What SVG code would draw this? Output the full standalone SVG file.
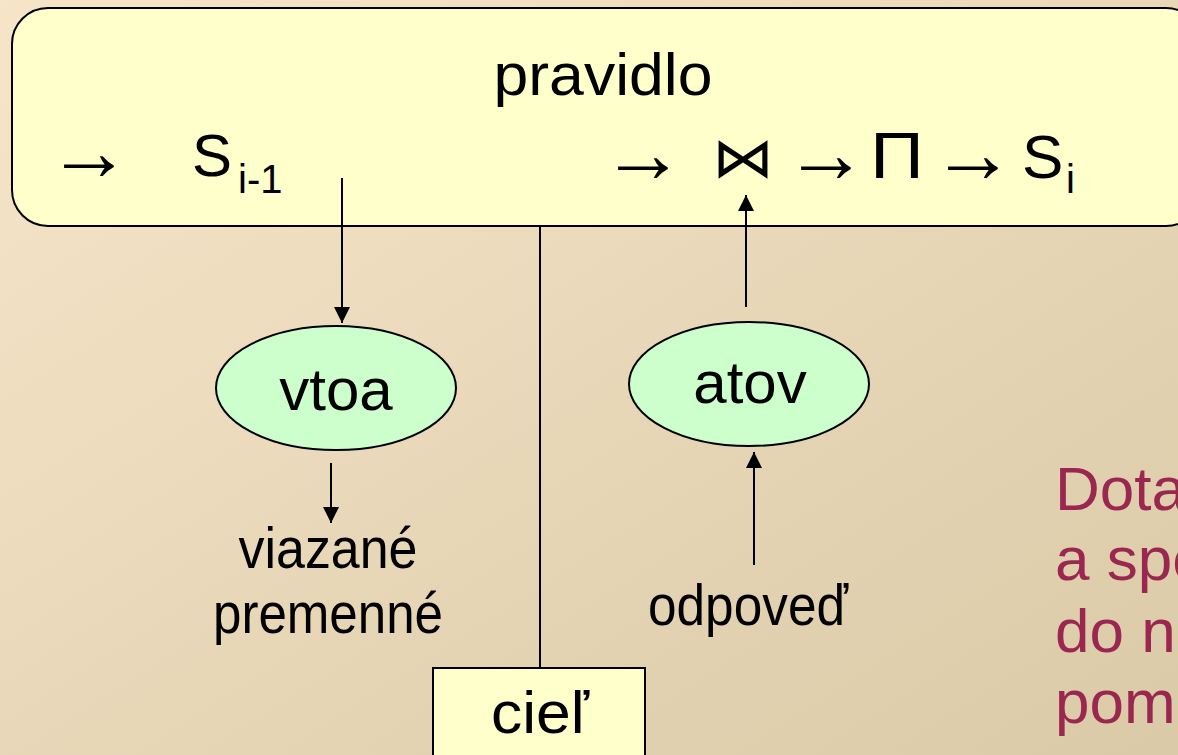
<svg xmlns="http://www.w3.org/2000/svg" width="1178" height="755" viewBox="0 0 1178 755">
  <defs>
    <linearGradient id="bg" x1="0" y1="0" x2="1" y2="1">
      <stop offset="0" stop-color="#f6e5c9"/>
      <stop offset="1" stop-color="#dbcaa7"/>
    </linearGradient>
    <marker id="arrow" markerUnits="userSpaceOnUse" markerWidth="16" markerHeight="16" refX="16" refY="8" orient="auto">
      <path d="M0,0 L16,8 L0,16 z" fill="#000"/>
    </marker>
    <style>
      .t { font-family: "Liberation Sans", Arial, sans-serif; fill: #000; }
      .arr { font-family: "Liberation Sans", Arial, sans-serif; fill: #000; font-size: 84px; }
      .sym { font-family: "DejaVu Sans", "Liberation Sans", sans-serif; fill: #000; }
      .note { font-family: "Liberation Sans", Arial, sans-serif; fill: #9a2750; font-size: 62px; }
      .box { fill: #ffffcc; stroke: #000; stroke-width: 2; }
      .oval { fill: #ccffcc; stroke: #000; stroke-width: 2; }
      .edge { stroke: #000; stroke-width: 2; fill: none; }
    </style>
  </defs>

  <rect width="1178" height="755" fill="url(#bg)"/>

  <!-- rule box -->
  <g id="pravidlo">
    <rect class="box" x="12" y="8" width="1190" height="218" rx="36" ry="36"/>
    <text class="t" x="603" y="95" font-size="60" text-anchor="middle" textLength="219" lengthAdjust="spacingAndGlyphs">pravidlo</text>
    <text class="arr" x="47" y="180">→</text>
    <text class="t" x="192" y="176" font-size="60">S</text>
    <text class="t" x="238" y="193" font-size="40">i-1</text>
    <text class="arr" x="601" y="182">→</text>
    <text class="sym" x="712" y="177" font-size="56" textLength="62" lengthAdjust="spacingAndGlyphs">⋈</text>
    <text class="arr" x="784" y="182">→</text>
    <text class="t" x="870" y="178" font-size="64" textLength="54" lengthAdjust="spacingAndGlyphs">Π</text>
    <text class="arr" x="931" y="182">→</text>
    <text class="t" x="1022" y="178" font-size="62">S</text>
    <text class="t" x="1066" y="193" font-size="40">i</text>
  </g>

  <g id="vtoa">
    <ellipse class="oval" cx="336" cy="388" rx="120" ry="62"/>
    <text class="t" x="336" y="410" font-size="60" text-anchor="middle">vtoa</text>
  </g>

  <g id="atov">
    <ellipse class="oval" cx="749" cy="384" rx="120" ry="62"/>
    <text class="t" x="750" y="403" font-size="60" text-anchor="middle">atov</text>
  </g>

  <g id="viazane">
    <text class="t" x="328" y="568" font-size="58" text-anchor="middle" textLength="179" lengthAdjust="spacingAndGlyphs">viazané</text>
    <text class="t" x="328" y="633" font-size="58" text-anchor="middle" textLength="230" lengthAdjust="spacingAndGlyphs">premenné</text>
  </g>

  <g id="odpoved">
    <text class="t" x="748" y="625" font-size="58" text-anchor="middle" textLength="200" lengthAdjust="spacingAndGlyphs">odpoveď</text>
  </g>

  <g id="ciel">
    <rect class="box" x="433" y="668" width="212" height="100"/>
    <text class="t" x="540" y="733" font-size="60" text-anchor="middle" textLength="98" lengthAdjust="spacingAndGlyphs">cieľ</text>
  </g>

  <g id="poznamka">
    <text class="note" x="1055" y="510">Dota</text>
    <text class="note" x="1055" y="580">a spe</text>
    <text class="note" x="1055" y="652">do n</text>
    <text class="note" x="1055" y="723">pom</text>
  </g>

  <g id="connectors">
    <line class="edge" x1="342" y1="178" x2="342" y2="323" marker-end="url(#arrow)"/>
    <line class="edge" x1="331" y1="463" x2="331" y2="523" marker-end="url(#arrow)"/>
    <line class="edge" x1="540" y1="226" x2="540" y2="668"/>
    <line class="edge" x1="746" y1="307" x2="746" y2="195" marker-end="url(#arrow)"/>
    <line class="edge" x1="754" y1="565" x2="754" y2="452" marker-end="url(#arrow)"/>
  </g>
</svg>
